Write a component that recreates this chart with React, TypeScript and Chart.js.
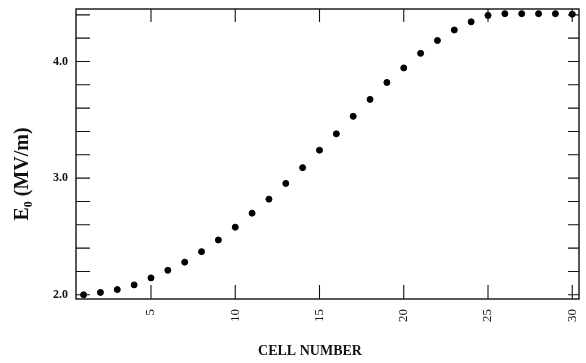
import React, { useEffect, useRef } from "react";
import { Chart, registerables } from "chart.js";

Chart.register(...registerables);

const cellNumbers = [
  1, 2, 3, 4, 5, 6, 7, 8, 9, 10, 11, 12, 13, 14, 15, 16, 17, 18, 19, 20, 21, 22, 23, 24, 25, 26, 27, 28, 29, 30,
];
const fieldValues = [
  2.0, 2.02, 2.045, 2.085, 2.145, 2.21, 2.28, 2.37, 2.47, 2.58, 2.7, 2.82, 2.955, 3.09, 3.24, 3.38, 3.53, 3.675,
  3.82, 3.945, 4.07, 4.18, 4.27, 4.34, 4.395, 4.41, 4.41, 4.41, 4.41, 4.405,
];
const xTickValues = [5, 10, 15, 20, 25, 30];
const yTickValues = [2.0, 2.2, 2.4, 2.6, 2.8, 3.0, 3.2, 3.4, 3.6, 3.8, 4.0, 4.2, 4.4];
const yLabelValues = [2.0, 3.0, 4.0];
const xTitle = "CELL NUMBER";
const yTitle = "E\u2080 (MV/m)";

const frameTicks = {
  id: "frameTicks",
  afterDraw(chart: any) {
    const { ctx, chartArea } = chart;
    const { left, right, top, bottom } = chartArea;
    const xs = chart.scales.x;
    const ys = chart.scales.y;
    ctx.save();
    ctx.strokeStyle = "#111";
    ctx.lineWidth = 1.4;
    ctx.strokeRect(left, top, right - left, bottom - top);
    ctx.lineWidth = 1.1;
    ctx.beginPath();
    for (const v of yTickValues) {
      const y = ys.getPixelForValue(v);
      ctx.moveTo(left, y);
      ctx.lineTo(left + 14, y);
      ctx.moveTo(right, y);
      ctx.lineTo(right - 11, y);
    }
    for (const v of xTickValues) {
      const x = xs.getPixelForValue(v);
      ctx.moveTo(x, bottom);
      ctx.lineTo(x, bottom - 14);
      ctx.moveTo(x, top);
      ctx.lineTo(x, top + 13);
    }
    ctx.stroke();
    ctx.restore();
  },
};

export default function App() {
  const ref = useRef<HTMLCanvasElement | null>(null);
  useEffect(() => {
    if (!ref.current) return;
    const chart = new Chart(ref.current, {
      type: "scatter",
      data: {
        datasets: [
          {
            data: cellNumbers.map((c, i) => ({ x: c, y: fieldValues[i] })),
            backgroundColor: "#000",
            borderColor: "#000",
            pointRadius: 3,
            pointHoverRadius: 3,
          },
        ],
      },
      options: {
        animation: false,
        responsive: false,
        layout: { padding: { top: 9, right: 7, left: 0, bottom: 0 } },
        plugins: { legend: { display: false }, tooltip: { enabled: false } },
        scales: {
          x: {
            type: "linear",
            min: 0.55,
            max: 30.4,
            border: { display: false },
            grid: { display: false },
            afterBuildTicks: (s: any) => {
              s.ticks = xTickValues.map((v) => ({ value: v }));
            },
            afterFit: (s: any) => {
              s.height = 64;
              s.paddingRight = 0;
              s.paddingLeft = 0;
            },
            ticks: {
              minRotation: 90,
              maxRotation: 90,
              padding: 2,
              color: "#111",
              font: { family: "Liberation Serif", size: 13 },
              callback: (v: any) => String(v),
            },
            title: {
              display: true,
              text: xTitle + "\u00a0\u00a0\u00a0\u00a0\u00a0\u00a0\u00a0\u00a0\u00a0\u00a0",
              color: "#111",
              font: { family: "Liberation Serif", size: 14, weight: "bold" },
              padding: { top: 0, bottom: 3 },
            },
          },
          y: {
            type: "linear",
            min: 1.964,
            max: 4.45,
            border: { display: false },
            grid: { display: false },
            afterBuildTicks: (s: any) => {
              s.ticks = yTickValues.map((v) => ({ value: v }));
            },
            afterFit: (s: any) => {
              s.width = 76;
              s.paddingTop = 0;
              s.paddingBottom = 0;
            },
            ticks: {
              padding: 0,
              color: "#111",
              font: { family: "Liberation Serif", size: 12, weight: "bold" },
              callback: (v: any) =>
                yLabelValues.some((l) => Math.abs(l - Number(v)) < 1e-6) ? Number(v).toFixed(1) : "",
            },
            title: {
              display: true,
              text: yTitle + "\u00a0\u00a0\u00a0\u00a0\u00a0\u00a0\u00a0\u00a0",
              color: "#111",
              font: { family: "Liberation Serif", size: 20, weight: "bold" },
              padding: { top: 11, bottom: 0 },
            },
          },
        },
      },
      plugins: [frameTicks],
    });
    return () => chart.destroy();
  }, []);
  return (
    <div style={{ position: "fixed", left: 0, top: 0, width: 586, height: 363, background: "#fff" }}>
      <canvas ref={ref} width={586} height={363} />
    </div>
  );
}
